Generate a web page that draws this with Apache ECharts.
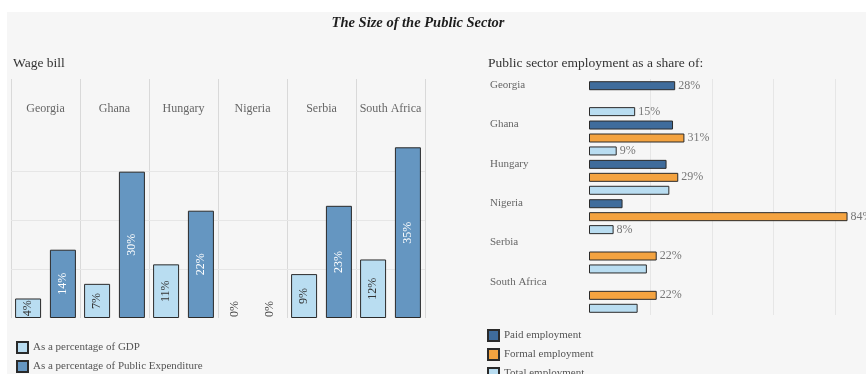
<!DOCTYPE html>
<html>
<head>
<meta charset="utf-8">
<script src="https://cdn.jsdelivr.net/npm/echarts@6/dist/echarts.min.js"></script>
<style>
  html, body { margin: 0; padding: 0; background: #ffffff; }
  #chart { width: 866px; height: 374px; }
</style>
</head>
<body>
<div id="chart"></div>
<script>
// Countries shared by both panels
const countries = ['Georgia', 'Ghana', 'Hungary', 'Nigeria', 'Serbia', 'South Africa'];

// Wage bill (% values)
const wageGdp = [4, 7, 11, 0, 9, 12];
const wageSpend = [14, 30, 22, 0, 23, 35];
const wageGridValues = [10, 20, 30];

// Public sector employment as a share of ... (% values, null = no data)
const paidShare = [28, 27.3, 25.2, 10.9, null, null];
const formalShare = [null, 31, 29, 84, 22, 22];
const totalShare = [15, 9, 26.1, 8, 18.8, 15.8];
// which bars carry a value label
const paidLabelled = [true, false, false, false, false, false];
const formalLabelled = [true, true, true, true, true, true];
const totalLabelled = [true, true, false, true, false, false];
const shareGridValues = [20, 40, 60, 80];

const SERIF = '"Liberation Serif", "DejaVu Serif", serif';
const C_LIGHT = '#b9ddf1';
const C_STEEL = '#6596c1';
const C_NAVY = '#3f6c9c';
const C_ORANGE = '#f4a340';
const EDGE = '#2a2a2a';

const pct = p => Math.round(p.value) + '%';

// zero-height bars: no outline, label lifted above the baseline in dark text
function wageData(values) {
  return values.map(v => v === 0
    ? { value: v, itemStyle: { borderWidth: 0 }, label: { offset: [9, 0], color: '#444444' } }
    : v);
}
function shareData(values, labelled) {
  return values.map((v, i) => v == null ? null : { value: v, label: { show: labelled[i] } });
}
function gridLines(axisKey, values, xi) {
  return {
    type: 'line', xAxisIndex: xi, yAxisIndex: xi, data: [], silent: true,
    markLine: {
      silent: true, symbol: 'none', z: 1, animation: false,
      label: { show: false },
      lineStyle: { color: '#e6e6e6', type: 'solid', width: 1 },
      emphasis: { disabled: true },
      data: values.map(v => ({ [axisKey]: v }))
    }
  };
}

const chart = echarts.init(document.getElementById('chart'), null, { renderer: 'canvas' });

const legendText = { fontSize: 11, color: '#555555', fontFamily: SERIF };

chart.setOption({
  animation: false,
  backgroundColor: '#ffffff',
  textStyle: { fontFamily: SERIF },
  graphic: [
    { type: 'rect', z: -10, silent: true, shape: { x: 7, y: 12, width: 866, height: 374 }, style: { fill: '#f6f6f6' } },
    { type: 'text', x: 418, y: 23, style: { text: 'The Size of the Public Sector', font: 'italic bold 14.5px ' + SERIF, fill: '#1e1e1e', align: 'center', verticalAlign: 'middle' } },
    { type: 'text', x: 13, y: 63, style: { text: 'Wage bill', font: '13.5px ' + SERIF, fill: '#333333', align: 'left', verticalAlign: 'middle' } },
    { type: 'text', x: 488, y: 63, style: { text: 'Public sector employment as a share of:', font: '13.5px ' + SERIF, fill: '#333333', align: 'left', verticalAlign: 'middle' } }
  ],
  grid: [
    { left: 11, top: 79, width: 414, height: 239 },
    { left: 589, top: 79, width: 277, height: 236 }
  ],
  xAxis: [
    {
      gridIndex: 0, type: 'category', position: 'top', data: countries,
      axisLine: { show: false }, axisTick: { show: false },
      axisLabel: { inside: true, margin: 24, fontSize: 12, color: '#666666', fontFamily: SERIF, interval: 0 },
      splitLine: { show: true, interval: 0, lineStyle: { color: '#d9d9d9', width: 1 } }
    },
    {
      gridIndex: 1, type: 'value', min: 0, max: 90,
      axisLine: { show: false }, axisTick: { show: false }, axisLabel: { show: false },
      splitLine: { show: false }
    }
  ],
  yAxis: [
    {
      gridIndex: 0, type: 'value', min: 0, max: 49,
      axisLine: { show: false }, axisTick: { show: false }, axisLabel: { show: false },
      splitLine: { show: false }
    },
    {
      gridIndex: 1, type: 'category', inverse: true, data: countries,
      axisLine: { show: false }, axisTick: { show: false },
      axisLabel: { align: 'left', verticalAlign: 'bottom', lineHeight: 27, margin: 99, fontSize: 11, color: '#666666', fontFamily: SERIF, interval: 0 },
      splitLine: { show: false }
    }
  ],
  legend: [
    {
      orient: 'vertical', left: 16, top: 341, height: 80, padding: 0,
      itemWidth: 11, itemHeight: 11, itemGap: 6,
      icon: 'rect', data: ['As a percentage of GDP', 'As a percentage of Public Expenditure'],
      textStyle: legendText, selectedMode: false
    },
    {
      orient: 'vertical', left: 487, top: 329, height: 80, padding: 0,
      itemWidth: 11, itemHeight: 11, itemGap: 6,
      icon: 'rect', data: ['Paid employment', 'Formal employment', 'Total employment'],
      textStyle: legendText, selectedMode: false
    }
  ],
  series: [
    gridLines('yAxis', wageGridValues, 0),
    {
      name: 'As a percentage of GDP', type: 'bar', xAxisIndex: 0, yAxisIndex: 0,
      data: wageData(wageGdp), barWidth: 26, barGap: '34%',
      itemStyle: { color: C_LIGHT, borderColor: EDGE, borderWidth: 1 },
      label: { show: true, position: 'inside', rotate: 90, formatter: pct, fontSize: 12, color: '#333333', fontFamily: SERIF }
    },
    {
      name: 'As a percentage of Public Expenditure', type: 'bar', xAxisIndex: 0, yAxisIndex: 0,
      data: wageData(wageSpend), barWidth: 26, barGap: '34%',
      itemStyle: { color: C_STEEL, borderColor: EDGE, borderWidth: 1 },
      label: { show: true, position: 'inside', rotate: 90, formatter: pct, fontSize: 12, color: '#ffffff', fontFamily: SERIF }
    },
    gridLines('xAxis', shareGridValues, 1),
    {
      name: 'Paid employment', type: 'bar', xAxisIndex: 1, yAxisIndex: 1,
      data: shareData(paidShare, paidLabelled), barWidth: 9, barGap: '44%',
      itemStyle: { color: C_NAVY, borderColor: EDGE, borderWidth: 1 },
      label: { position: 'right', distance: 3, formatter: pct, fontSize: 12, color: '#777777', fontFamily: SERIF }
    },
    {
      name: 'Formal employment', type: 'bar', xAxisIndex: 1, yAxisIndex: 1,
      data: shareData(formalShare, formalLabelled), barWidth: 9, barGap: '44%',
      itemStyle: { color: C_ORANGE, borderColor: EDGE, borderWidth: 1 },
      label: { position: 'right', distance: 3, formatter: pct, fontSize: 12, color: '#777777', fontFamily: SERIF }
    },
    {
      name: 'Total employment', type: 'bar', xAxisIndex: 1, yAxisIndex: 1,
      data: shareData(totalShare, totalLabelled), barWidth: 9, barGap: '44%',
      itemStyle: { color: C_LIGHT, borderColor: EDGE, borderWidth: 1 },
      label: { position: 'right', distance: 3, formatter: pct, fontSize: 12, color: '#777777', fontFamily: SERIF }
    }
  ]
});
</script>
</body>
</html>
